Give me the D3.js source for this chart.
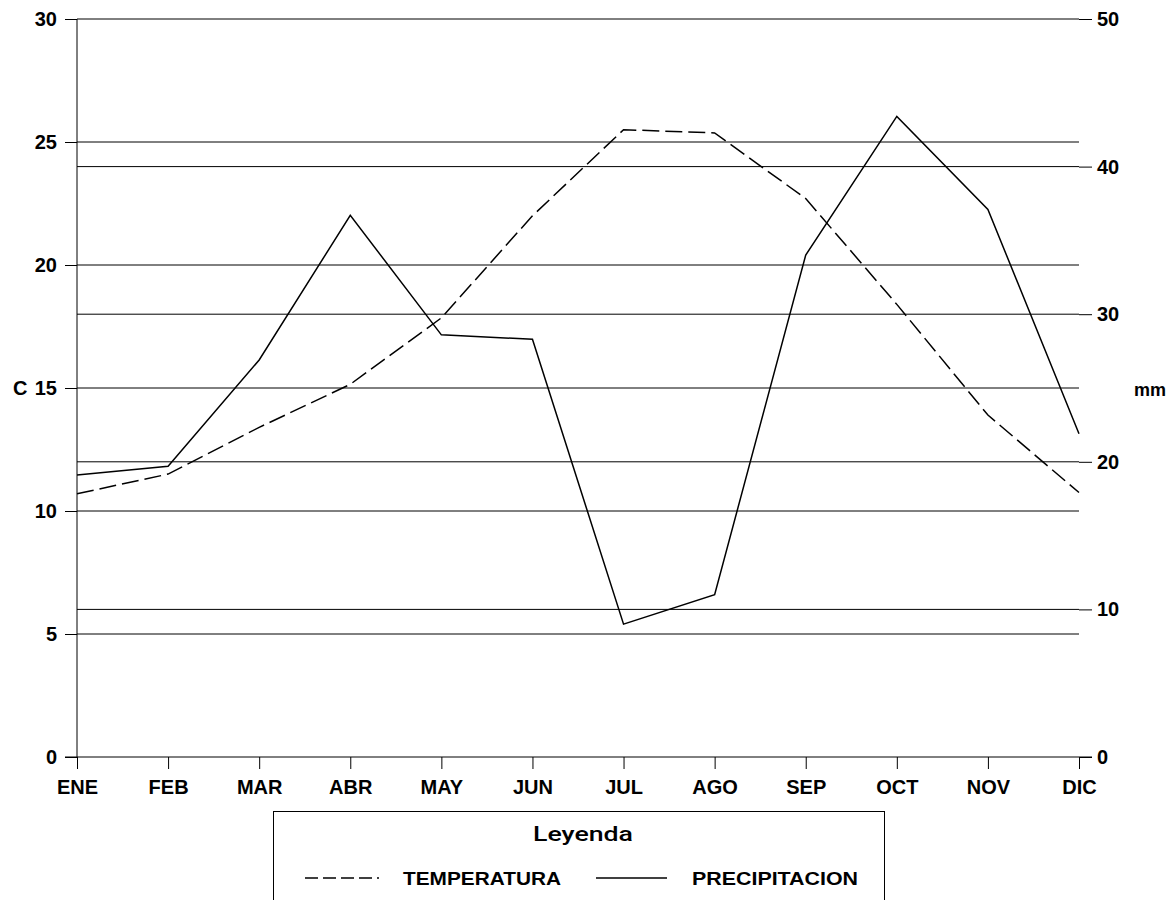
<!DOCTYPE html>
<html><head><meta charset="utf-8">
<script src="https://cdn.jsdelivr.net/npm/d3@7"></script>
<style>body{margin:0;background:#fff}svg{display:block}</style>
</head><body>
<script>
const months = ["ENE","FEB","MAR","ABR","MAY","JUN","JUL","AGO","SEP","OCT","NOV","DIC"];
const temperatura = [10.7,11.5,13.4,15.15,17.85,22.0,25.5,25.37,22.7,18.4,13.9,10.75];
const precipitacion = [19.1,19.7,26.9,36.7,28.6,28.3,9.0,11.0,34.0,43.4,37.1,21.9];
const leftTicks = [0,5,10,15,20,25,30];
const rightTicks = [0,10,20,30,40,50];

const W=1175,H=900;
const x0=77,x1=1079,yTop=19,yBot=757;
const svg=d3.select("body").append("svg").attr("width",W).attr("height",H);
const x=d3.scalePoint().domain(months).range([x0,x1]);
const yL=d3.scaleLinear().domain([0,30]).range([yBot,yTop]);
const yR=d3.scaleLinear().domain([0,50]).range([yBot,yTop]);
const font="Liberation Sans, Arial, sans-serif";

// gridlines
const g=svg.append("g");
g.selectAll(".gl").data(leftTicks.filter(d=>d>0&&d<30)).enter().append("line")
 .attr("x1",x0).attr("x2",x1).attr("y1",d=>yL(d)).attr("y2",d=>yL(d)).attr("stroke","#000").attr("stroke-width",1);
g.selectAll(".gr").data(rightTicks.filter(d=>d>0&&d<50)).enter().append("line")
 .attr("x1",x0).attr("x2",x1).attr("y1",d=>yR(d)).attr("y2",d=>yR(d)).attr("stroke","#000").attr("stroke-width",1);
svg.append("line").attr("x1",x0).attr("x2",x1).attr("y1",yTop).attr("y2",yTop).attr("stroke","#000");

// axes
const axL=svg.append("g").attr("transform",`translate(${x0},0)`)
 .call(d3.axisLeft(yL).tickValues(leftTicks).tickSize(12).tickPadding(8));
const axR=svg.append("g").attr("transform",`translate(${x1},0)`)
 .call(d3.axisRight(yR).tickValues(rightTicks).tickSize(13).tickPadding(5));
axR.select(".domain").remove();
const axB=svg.append("g").attr("transform",`translate(0,${yBot})`)
 .call(d3.axisBottom(x).tickSize(12).tickPadding(11));
axB.select(".domain").remove();
svg.append("line").attr("x1",x0-12).attr("x2",x1+13).attr("y1",yBot).attr("y2",yBot).attr("stroke","#000");
axL.select(".domain").attr("d",`M0,${yBot}V${yTop}`);
[axL,axR,axB].forEach(a=>{
  a.attr("font-size",null).attr("font-family",null);
  a.selectAll("text").attr("font-family",font).attr("font-weight","bold").style("font-size","20px").attr("fill","#000");
  a.selectAll("line,path").attr("stroke","#000");
});
axB.selectAll("text").attr("dy","0.71em");

// axis titles
svg.append("text").attr("x",13).attr("y",yL(15)).attr("dy","0.35em").text("C")
 .attr("font-family",font).attr("font-weight","bold").style("font-size","20px");
svg.append("text").attr("x",1134).attr("y",390).attr("dy","0.35em").text("mm")
 .attr("font-family",font).attr("font-weight","bold").style("font-size","18px");

// lines
svg.append("path").datum(temperatura)
 .attr("d",d3.line().x((d,i)=>x(months[i])).y(d=>yL(d)))
 .attr("fill","none").attr("stroke","#000").attr("stroke-width",1.5).attr("stroke-dasharray","17,6");
svg.append("path").datum(precipitacion)
 .attr("d",d3.line().x((d,i)=>x(months[i])).y(d=>yR(d)))
 .attr("fill","none").attr("stroke","#000").attr("stroke-width",1.5);

// legend
const lg=svg.append("g");
lg.append("rect").attr("x",273.5).attr("y",811.5).attr("width",611).attr("height",120)
 .attr("fill","none").attr("stroke","#000");
lg.append("text").attr("x",533).attr("y",834).attr("dy","0.35em")
 .attr("textLength",100).attr("lengthAdjust","spacingAndGlyphs")
 .text("Leyenda").attr("font-family","Roboto, Liberation Sans, sans-serif").style("font-size","21px").attr("font-weight","500");
lg.append("line").attr("x1",305).attr("x2",379).attr("y1",878).attr("y2",878)
 .attr("stroke","#000").attr("stroke-width",1.5).attr("stroke-dasharray","13,5");
lg.append("text").attr("x",403).attr("y",878).attr("dy","0.35em").text("TEMPERATURA")
 .attr("textLength",158).attr("lengthAdjust","spacingAndGlyphs")
 .attr("font-family",font).attr("font-weight","bold").style("font-size","19px");
lg.append("line").attr("x1",596).attr("x2",667).attr("y1",878).attr("y2",878)
 .attr("stroke","#000").attr("stroke-width",1.5);
lg.append("text").attr("x",692).attr("y",878).attr("dy","0.35em").text("PRECIPITACION")
 .attr("textLength",166).attr("lengthAdjust","spacingAndGlyphs")
 .attr("font-family",font).attr("font-weight","bold").style("font-size","19px");
</script>
</body></html>
